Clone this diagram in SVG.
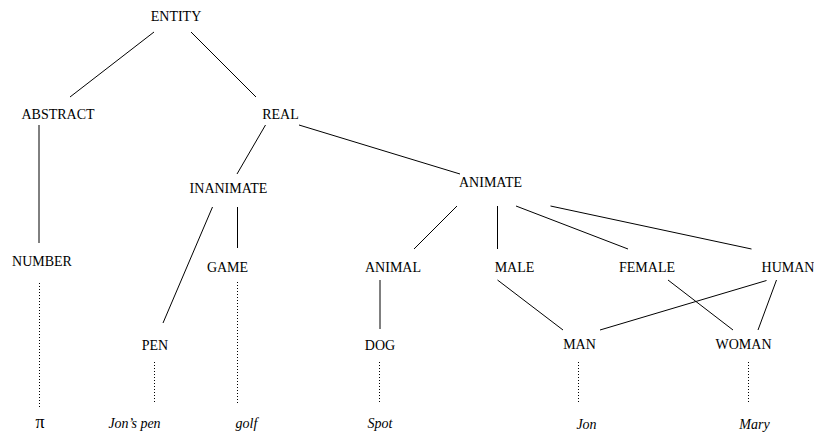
<svg xmlns="http://www.w3.org/2000/svg" width="814" height="433" viewBox="0 0 814 433">
  <style>
    .lbl { font-family: 'Liberation Serif', 'DejaVu Serif', serif; font-size: 14px; fill: #000; text-anchor: middle; }
    .inst { font-style: italic; }
    .sym { font-size: 18px; }
    .edge { stroke: #000; stroke-width: 1; fill: none; }
    .dot { stroke: #000; stroke-width: 1; stroke-dasharray: 1 2; fill: none; }
  </style>
  <rect width="814" height="433" fill="#fff"/>

  <g id="connectors">
    <line class="edge" x1="154" y1="32" x2="70" y2="97"/>
    <line class="edge" x1="191" y1="32" x2="256" y2="97"/>
    <line class="edge" x1="39" y1="125" x2="39" y2="243"/>
    <line class="edge" x1="265.5" y1="125" x2="237" y2="174"/>
    <line class="edge" x1="299" y1="125" x2="460" y2="174"/>
    <line class="edge" x1="212.5" y1="207" x2="163" y2="323"/>
    <line class="edge" x1="237.5" y1="207" x2="237.5" y2="248"/>
    <line class="edge" x1="457" y1="206" x2="414" y2="249"/>
    <line class="edge" x1="497.5" y1="206" x2="497.5" y2="249"/>
    <line class="edge" x1="516" y1="206" x2="628" y2="249"/>
    <line class="edge" x1="550.5" y1="206" x2="751.5" y2="249"/>
    <line class="edge" x1="380" y1="280" x2="380" y2="329"/>
    <line class="edge" x1="497.5" y1="280" x2="563" y2="330"/>
    <line class="edge" x1="668" y1="280" x2="733" y2="330"/>
    <line class="edge" x1="766.5" y1="280.5" x2="600" y2="330"/>
    <line class="edge" x1="776.5" y1="280" x2="758" y2="330"/>
    <line class="dot" x1="39.5" y1="283" x2="39.5" y2="407"/>
    <line class="dot" x1="237.5" y1="282" x2="237.5" y2="404"/>
    <line class="dot" x1="154.5" y1="362" x2="154.5" y2="404"/>
    <line class="dot" x1="379.5" y1="362" x2="379.5" y2="404"/>
    <line class="dot" x1="578.5" y1="362" x2="578.5" y2="404"/>
    <line class="dot" x1="748.5" y1="362" x2="748.5" y2="404"/>
  </g>

  <g id="entity"><text class="lbl" x="176" y="20.5">ENTITY</text></g>
  <g id="abstract"><text class="lbl" x="58" y="119">ABSTRACT</text></g>
  <g id="real"><text class="lbl" x="280.5" y="119">REAL</text></g>
  <g id="inanimate"><text class="lbl" x="228.5" y="193">INANIMATE</text></g>
  <g id="animate"><text class="lbl" x="490.5" y="187">ANIMATE</text></g>
  <g id="number"><text class="lbl" x="42" y="266">NUMBER</text></g>
  <g id="game"><text class="lbl" x="227.5" y="272">GAME</text></g>
  <g id="animal"><text class="lbl" x="393" y="272">ANIMAL</text></g>
  <g id="male"><text class="lbl" x="514.5" y="272">MALE</text></g>
  <g id="female"><text class="lbl" x="647" y="272">FEMALE</text></g>
  <g id="human"><text class="lbl" x="788" y="272">HUMAN</text></g>
  <g id="pen"><text class="lbl" x="155" y="350">PEN</text></g>
  <g id="dog"><text class="lbl" x="380" y="350">DOG</text></g>
  <g id="man"><text class="lbl" x="579.5" y="349">MAN</text></g>
  <g id="woman"><text class="lbl" x="743.5" y="349">WOMAN</text></g>
  <g id="pi"><text class="lbl sym" x="40" y="428">π</text></g>
  <g id="jons-pen"><text class="lbl inst" x="134.5" y="428">Jon’s pen</text></g>
  <g id="golf"><text class="lbl inst" x="246.5" y="428">golf</text></g>
  <g id="spot"><text class="lbl inst" x="380" y="428">Spot</text></g>
  <g id="jon"><text class="lbl inst" x="586.5" y="429">Jon</text></g>
  <g id="mary"><text class="lbl inst" x="754.5" y="429">Mary</text></g>
</svg>
